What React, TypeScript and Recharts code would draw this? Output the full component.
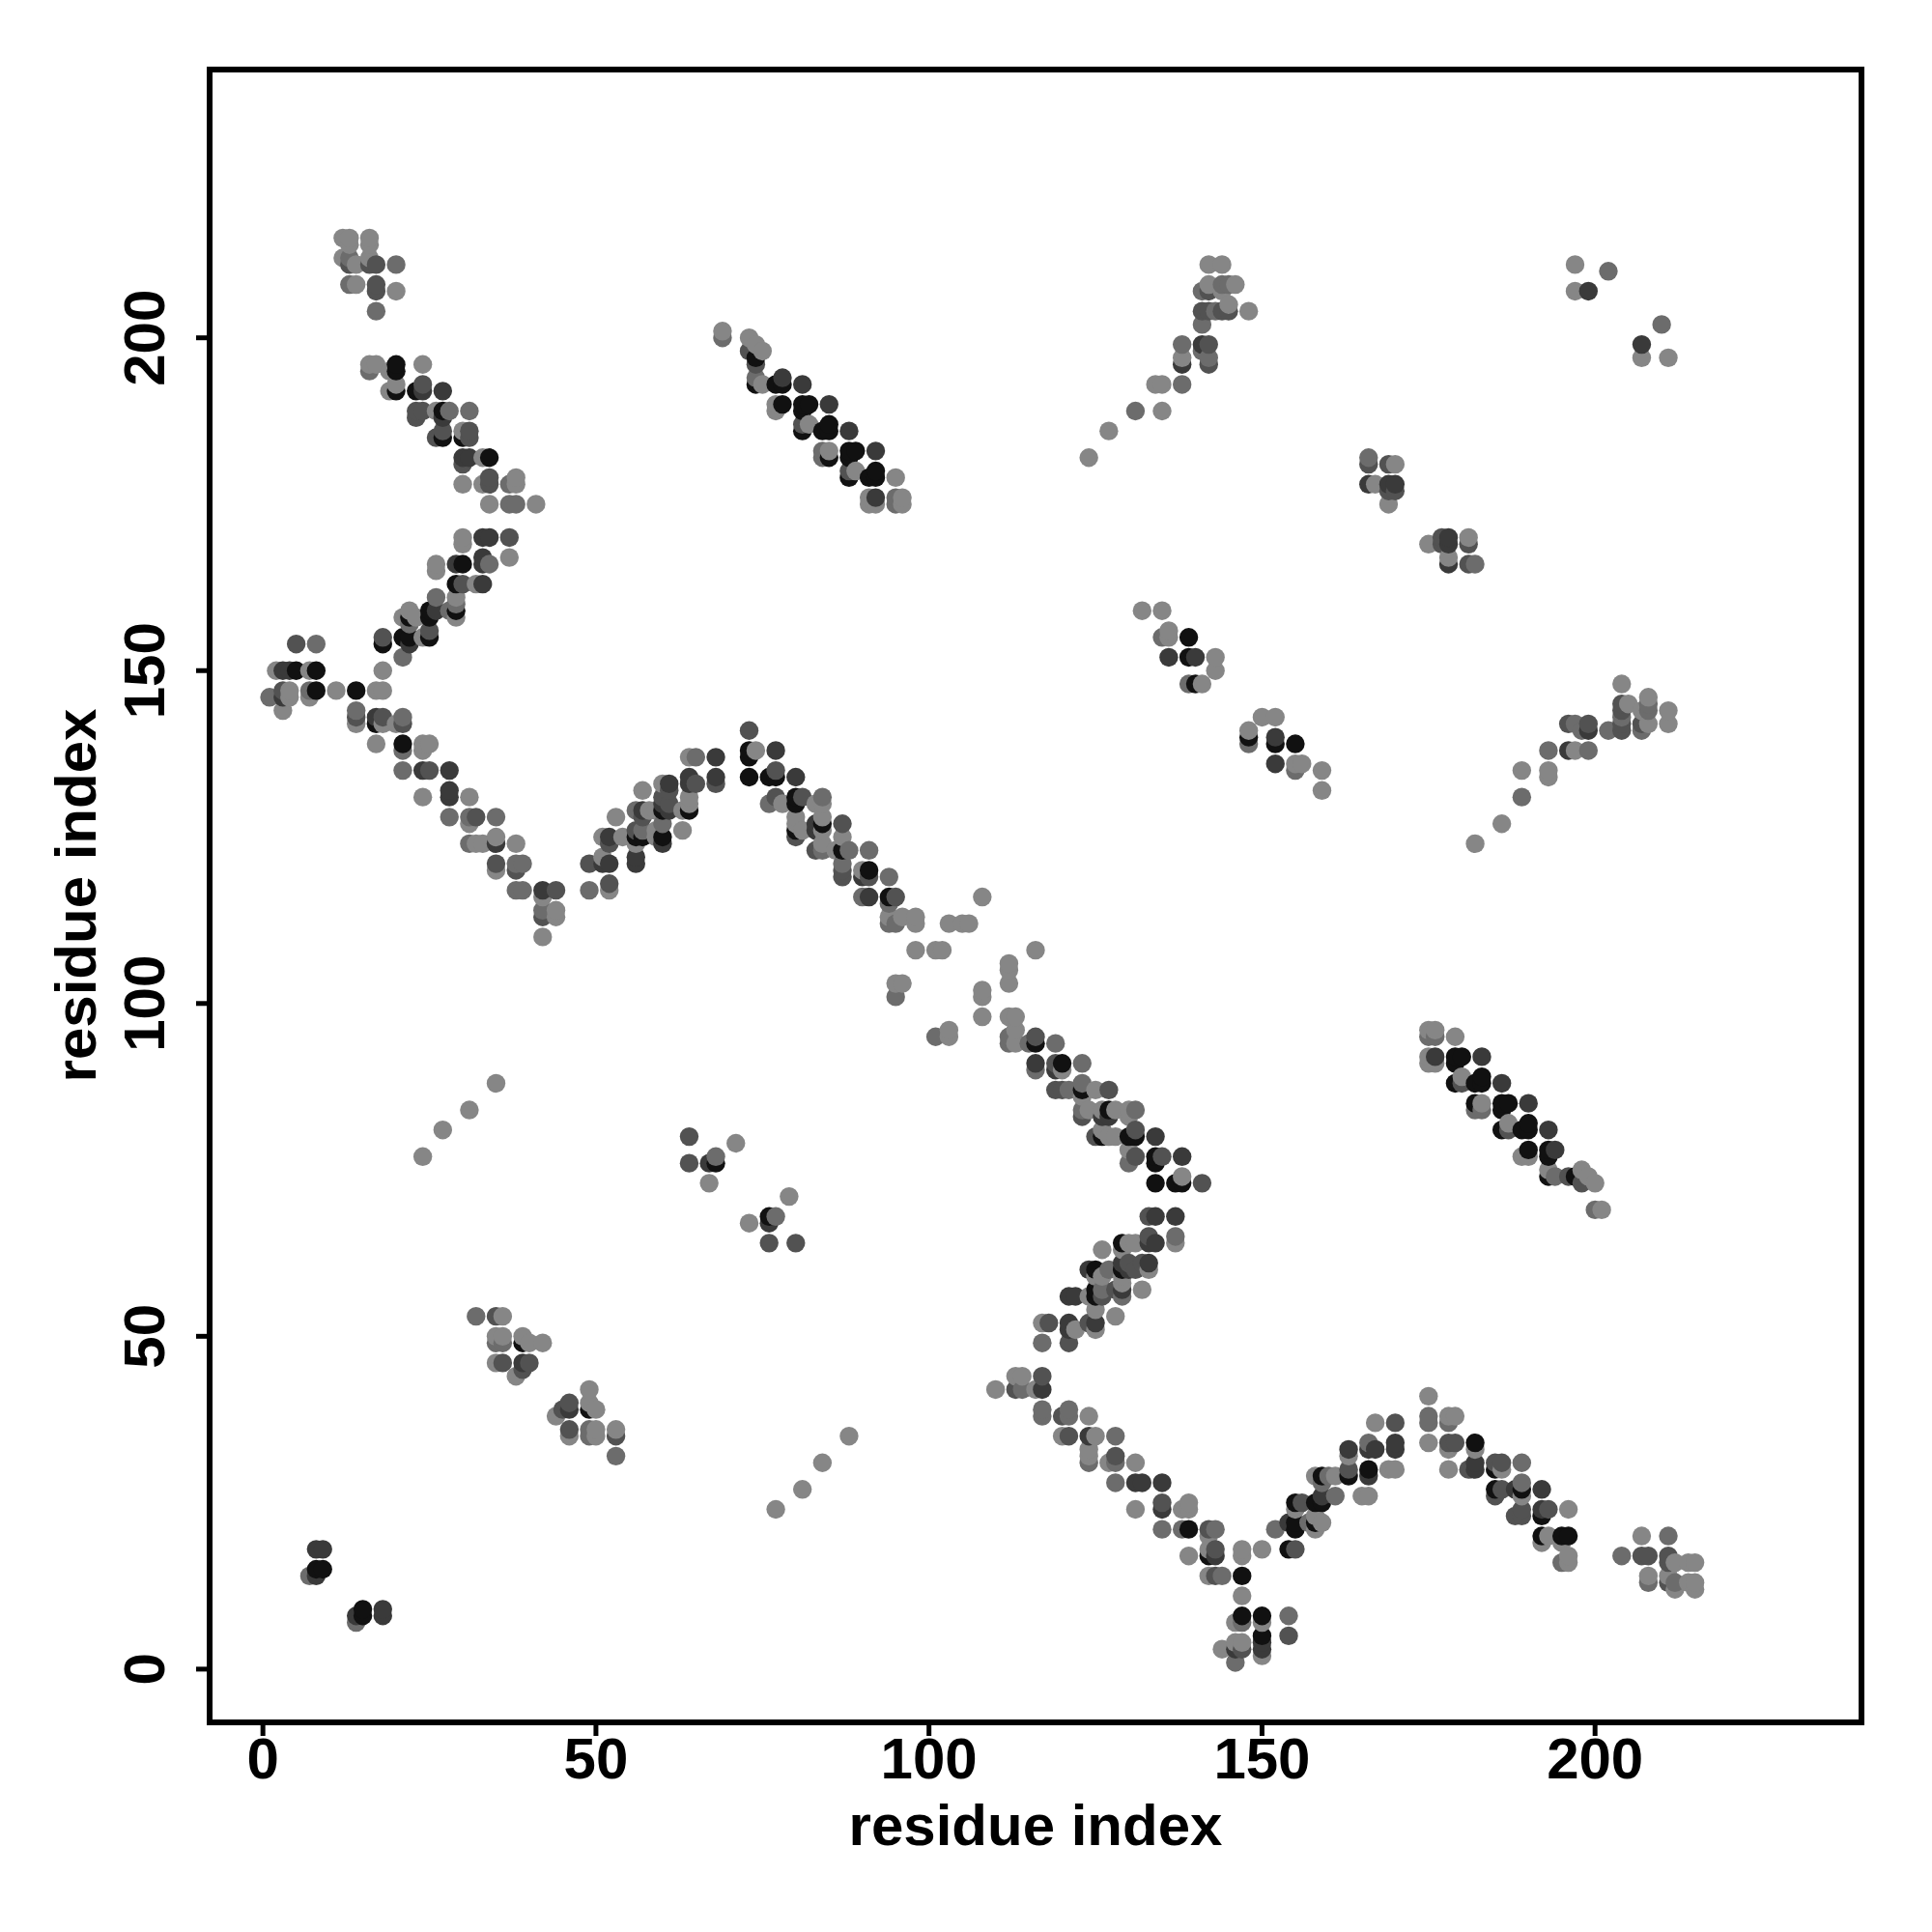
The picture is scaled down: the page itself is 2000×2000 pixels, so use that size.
import React from "react";
import { ScatterChart, Scatter, XAxis, YAxis, ReferenceArea } from "recharts";

type Contact = [number, number, number];

const axisTicks = [0, 50, 100, 150, 200];
const axisTitle = "residue index";
const shades = ["", "#868686", "#6c6c6c", "#525252", "#3a3a3a", "#111111"];

const contactsTopLeft: Contact[] = [
  [12,215,1],[13,215,1],[16,215,1],[13,214,1],[16,214,1],[12,212,1],[13,212,2],[16,212,1],[13,211,3],[14,211,1],[16,211,3],[17,211,3],[20,211,2],
  [13,208,2],[14,208,1],[17,208,3],[17,207,3],[20,207,1],[17,204,2],
];
const contactsStrandA: Contact[] = [
  [16,196,1],[17,196,1],[20,196,5],[24,196,1],[16,195,2],[19,195,1],[20,195,5],[20,193,1],[24,193,3],[19,192,1],[20,192,5],[23,192,5],[24,192,4],[27,192,4],
  [23,189,3],[24,189,3],[26,189,1],[27,189,5],[28,189,2],[31,189,2],[23,188,3],[27,188,4],[27,186,3],[30,186,1],[31,186,3],[26,185,3],[27,185,5],[30,185,5],[31,185,3],
  [30,182,4],[31,182,4],[33,182,1],[34,182,5],[30,181,3],[34,179,3],[38,179,1],[30,178,1],[33,178,1],[34,178,3],[37,178,2],[38,178,1],
  [34,175,1],[37,175,2],[38,175,2],[41,175,1],
];
const contactsStrandB: Contact[] = [
  [30,170,1],[33,170,4],[34,170,4],[37,170,3],[30,169,1],[33,167,4],[37,167,1],[26,166,1],[29,166,4],[30,166,5],[33,166,4],[34,166,2],[26,165,1],
  [29,163,5],[30,163,3],[32,163,1],[33,163,4],[26,161,2],[29,161,1],[29,160,2],[22,159,1],[25,159,5],[26,159,4],[28,159,2],[29,159,5],
  [21,158,1],[22,158,5],[23,158,1],[25,158,5],[29,158,1],[22,157,2],[25,156,3],[21,155,5],[22,155,5],[24,155,1],[25,155,5],[18,155,3],[18,154,5],[22,154,4],[21,152,2],
];
const contactsTurn: Contact[] = [
  [5,154,3],[8,154,2],[18,150,1],[2,150,1],[3,150,4],[4,150,4],[5,150,5],[7,150,1],[8,150,5],[3,147,3],[4,147,1],[7,147,2],[8,147,5],[11,147,1],[14,147,5],[17,147,1],[18,147,1],
  [1,146,2],[3,146,4],[4,146,1],[7,146,1],[3,144,1],[14,144,2],[14,143,3],[17,143,4],[18,143,3],[21,143,2],[14,142,1],[17,142,5],[18,142,1],[20,142,1],[21,142,3],
  [17,139,1],[21,139,5],[24,139,1],[25,139,1],[21,138,2],[24,138,1],[21,135,2],[24,135,4],[25,135,3],[28,135,4],[28,132,4],[24,131,1],[28,131,4],[31,131,1],
  [28,128,2],[31,128,2],[32,128,3],[35,128,2],[31,127,1],[35,125,1],[31,124,2],[32,124,1],[33,124,1],[35,124,4],[38,124,1],[35,121,3],[38,121,2],[39,121,2],[35,120,1],[38,120,3],
  [38,117,2],[39,117,2],[42,117,4],[44,117,3],[42,116,1],[42,114,2],[44,114,1],[42,113,3],[44,113,1],[42,110,1],
];
const contactsArch: Contact[] = [
  [73,141,3],[73,138,5],[74,138,1],[77,138,4],[64,137,1],[65,137,2],[68,137,4],[73,137,5],[77,135,3],[64,134,4],[68,134,4],[73,134,5],[76,134,5],[77,134,5],[80,134,4],
  [60,133,1],[61,133,4],[64,133,4],[65,133,3],[68,133,3],[57,132,1],[61,132,3],[60,131,3],[64,131,1],[77,131,3],[80,131,5],[81,131,3],[84,131,2],
  [60,130,4],[61,130,3],[64,130,1],[76,130,2],[78,130,1],[80,130,5],[83,130,1],[84,130,1],[56,129,2],[57,129,4],[58,129,1],[59,129,1],[60,129,5],[61,129,4],[63,129,1],[64,129,5],
  [53,128,1],[57,128,3],[80,128,1],[84,128,1],[60,127,2],[80,127,1],[83,127,4],[84,127,5],[87,127,3],[56,126,3],[57,126,2],[59,126,1],[63,126,1],[80,126,5],[81,126,1],[83,126,4],[84,126,1],
  [51,125,1],[52,125,4],[54,125,1],[56,125,5],[57,125,5],[59,125,1],[60,125,5],[80,125,3],[87,125,1],[52,124,3],[56,124,1],[60,124,4],[84,124,1],
  [83,123,3],[84,123,2],[86,123,1],[87,123,5],[88,123,2],[91,123,2],[51,122,1],[56,122,4],[49,121,3],[51,121,4],[52,121,4],[56,121,4],[87,121,2],
  [87,120,3],[90,120,1],[91,120,5],[87,119,3],[90,119,4],[91,119,3],[94,119,2],[52,118,3],[49,117,2],[52,117,1],[90,116,2],[91,116,4],[94,116,5],[95,116,3],[108,116,1],[94,115,2],
  [94,113,1],[96,113,1],[98,113,1],[94,112,2],[95,112,2],[98,112,1],[103,112,1],[105,112,1],[106,112,1],[98,108,1],[101,108,1],[102,108,1],[95,103,1],[96,103,1],[95,101,2],
];
const contactsStrandC: Contact[] = [
  [69,201,1],[69,200,2],[73,200,1],[74,199,1],[75,198,1],[73,198,3],[74,197,5],[74,196,3],[74,194,2],[74,193,5],[75,193,1],[77,193,5],[78,194,4],[78,193,5],[81,193,4],
  [77,190,1],[77,189,1],[78,190,5],[81,190,5],[82,190,5],[81,189,5],[85,190,4],[81,187,3],[82,187,1],[81,186,5],[84,186,5],[85,187,5],[85,186,5],[88,186,4],
  [84,183,2],[84,182,2],[85,183,1],[85,182,5],[88,183,5],[89,183,5],[88,182,5],[92,183,4],[88,180,3],[88,179,5],[89,180,1],[91,179,5],[92,180,5],[92,179,5],[95,179,1],
  [91,176,1],[91,175,1],[92,176,4],[92,175,1],[95,176,2],[95,175,2],[96,176,1],[96,175,1],
];
const contactsStrandD: Contact[] = [
  [124,182,1],[127,186,1],[131,189,2],[135,189,1],[134,193,1],[135,193,1],[138,193,2],[138,196,4],[138,197,1],[138,199,2],[141,199,4],[142,199,3],[141,198,2],[142,197,2],[142,196,3],
  [141,202,2],[141,204,3],[142,204,3],[143,204,2],[144,204,3],[145,204,3],[145,205,1],[148,204,1],[141,207,2],[142,207,3],[142,208,1],[144,208,2],[145,208,2],[146,208,1],[144,207,1],[142,211,1],[144,211,1],
];
const contactsMiddle: Contact[] = [
  [132,159,1],[135,159,1],[136,156,1],[135,155,2],[136,155,1],[139,155,5],[136,152,4],[139,152,5],[140,152,4],[143,152,1],[143,150,1],[139,148,2],[140,148,5],[141,148,1],
  [166,182,2],[166,181,3],[169,181,3],[170,181,1],[166,178,4],[167,178,1],[169,178,4],[170,178,4],[169,177,3],[170,177,3],[169,175,1],
  [197,211,1],[202,210,2],[197,207,1],[199,207,4],
];
const contactsNearDiagonal: Contact[] = [
  [32,53,2],[35,53,3],[36,53,1],[35,50,1],[36,50,1],[35,49,2],[36,49,2],[39,50,1],[39,49,5],[40,49,1],[42,49,1],[35,46,1],[36,46,3],[39,46,4],[40,46,3],[39,45,3],[38,44,1],
  [24,77,1],[27,81,1],[31,84,1],[35,88,1],[64,80,3],[64,76,3],[67,76,4],[68,76,5],[68,77,2],[67,73,1],[71,79,1],
  [7,14,2],[8,14,4],[8,15,5],[9,15,5],[8,18,4],[9,18,4],
];

const upperContacts: Contact[] = [
  ...contactsTopLeft, ...contactsStrandA, ...contactsStrandB, ...contactsTurn, ...contactsArch,
  ...contactsStrandC, ...contactsStrandD, ...contactsMiddle, ...contactsNearDiagonal,
];

const table = upperContacts
  .flatMap(([i, j, s]) => [{ x: i, y: j, s }, { x: j, y: i, s }])
  .sort((a, b) => a.x - b.x || a.y - b.y);

const font = "'Liberation Sans', Arial, sans-serif";

const Dot = (p: any) => <circle cx={p.cx} cy={p.cy} r={9.7} fill={shades[p.payload.s]} />;

const XTick = (p: any) => (
  <text x={p.x} y={1841} textAnchor="middle" fontFamily={font} fontWeight="bold" fontSize={60} fill="#000">
    {p.payload.value}
  </text>
);
const YTick = (p: any) => (
  <text x={170} y={p.y} transform={`rotate(-90 170 ${p.y})`} textAnchor="middle" fontFamily={font} fontWeight="bold" fontSize={60} fill="#000">
    {p.payload.value}
  </text>
);

const XTitle = () => (
  <text x={1072} y={1910} textAnchor="middle" fontFamily={font} fontWeight="bold" fontSize={60} fill="#000">{axisTitle}</text>
);
const YTitle = () => (
  <text x={99} y={927} transform="rotate(-90 99 927)" textAnchor="middle" fontFamily={font} fontWeight="bold" fontSize={60} fill="#000">{axisTitle}</text>
);

export default function App() {
  return (
    <div style={{ position: "absolute", left: 0, top: 0, width: 2000, height: 2000, background: "#fff" }}>
      <ScatterChart width={2000} height={2000} margin={{ top: 72, right: 73, left: 0, bottom: 0 }}>
        <XAxis
          type="number" dataKey="x" domain={[-8, 240]} ticks={axisTicks} height={217} allowDataOverflow
          tick={XTick} tickSize={14} tickLine={{ stroke: "#000", strokeWidth: 5 }} axisLine={{ stroke: "#000", strokeWidth: 5 }}
          label={{ content: XTitle }}
        />
        <YAxis
          type="number" dataKey="y" domain={[-8, 240.3]} ticks={axisTicks} width={217} allowDataOverflow
          tick={YTick} tickSize={14} tickLine={{ stroke: "#000", strokeWidth: 5 }} axisLine={{ stroke: "#000", strokeWidth: 5 }}
          label={{ content: YTitle }}
        />
        <Scatter data={table} isAnimationActive={false} shape={Dot} />
        <ReferenceArea x1={-8} x2={240} y1={-8} y2={240.3} fill="none" stroke="#000" strokeWidth={6} ifOverflow="visible" />
      </ScatterChart>
    </div>
  );
}
